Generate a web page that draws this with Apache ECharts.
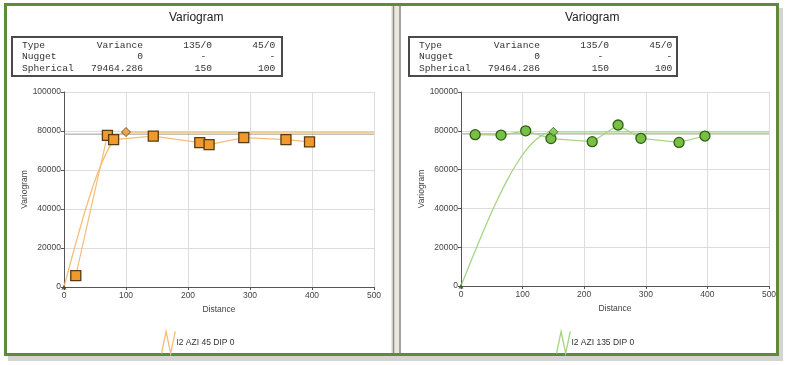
<!DOCTYPE html>
<html>
<head>
<meta charset="utf-8">
<script src="https://cdn.jsdelivr.net/npm/echarts@6/dist/echarts.min.js"></script>
<style>html,body{margin:0;padding:0;background:#fff}#c{width:790px;height:365px}</style>
</head>
<body>
<div id="c"></div>
<script>
// ---- data ----
const chartTitle = 'Variogram';
const tableHeader = ['Type', 'Variance', '135/0', '45/0'];
const tableNugget = ['Nugget', '0', '-', '-'];
const tableSpherical = ['Spherical', '79464.286', '150', '100'];

const xTicks = [0, 100, 200, 300, 400, 500];
const yTicks = [0, 20000, 40000, 60000, 80000, 100000];

// left panel: I2 AZI 45 DIP 0
const name45 = 'I2 AZI 45 DIP 0';
const dist45 = [19, 70, 80, 144, 219, 234, 290, 358, 396];
const gamma45 = [5800, 77800, 75600, 77400, 74000, 73000, 76600, 75600, 74400];
const modelDist45 = [0, 10, 20, 30, 40, 50, 60, 70, 80, 90, 100, 500];
const modelGamma45 = [0, 11900, 23500, 34700, 45100, 54600, 62900, 69800, 75000, 78300, 79464, 79464];
const range45 = 100;

// right panel: I2 AZI 135 DIP 0
const name135 = 'I2 AZI 135 DIP 0';
const dist135 = [23, 65, 105, 146, 213, 255, 292, 354, 396];
const gamma135 = [78000, 77800, 80000, 76000, 74400, 83000, 76100, 74000, 77300];
const modelDist135 = [0, 15, 30, 45, 60, 75, 90, 105, 120, 135, 150, 500];
const modelGamma135 = [0, 11900, 23500, 34700, 45100, 54600, 62900, 69800, 75000, 78300, 79464, 79464];
const range135 = 150;

const sill = 79464;
const variance = 78400;

// ---- build ----
const zip = (a, b) => a.map((v, i) => [v, b[i]]);
const chart = echarts.init(document.getElementById('c'), null, {renderer: 'canvas'});

const panels = [
  {left: 64, width: 310, top: 92, height: 195, cx: 196, tableX: 12, tableW: 270,
   name: name45, dist: dist45, gamma: gamma45, md: modelDist45, mg: modelGamma45, range: range45,
   line: '#F5BE78', fill: '#EE9A2E', border: '#5b3a0e', symbol: 'rect', legendX: 159},
  {left: 461, width: 308, top: 92, height: 194, cx: 592, tableX: 409, tableW: 268,
   name: name135, dist: dist135, gamma: gamma135, md: modelDist135, mg: modelGamma135, range: range135,
   line: '#A5D585', fill: '#78C043', border: '#2f5e16', symbol: 'circle', legendX: 554}
];

const zig = 'path://M0,24 L5,0 L10,24 L15,0';

const grid = [], xAxis = [], yAxis = [], series = [], legend = [], graphic = [];

// frame
graphic.push({type: 'rect', shape: {x: 8, y: 356, width: 775, height: 5}, style: {fill: '#d4d4d4'}, z: -2});
graphic.push({type: 'rect', shape: {x: 779, y: 8, width: 4, height: 352}, style: {fill: '#d4d4d4'}, z: -2});
graphic.push({type: 'rect', shape: {x: 5.5, y: 4.5, width: 772, height: 350}, style: {fill: '#fff', stroke: '#5E8B3B', lineWidth: 3}, z: -1});
graphic.push({type: 'rect', shape: {x: 391, y: 6, width: 10, height: 347}, style: {fill: '#ECE9DC'}, z: 0});
graphic.push({type: 'line', shape: {x1: 393.5, y1: 6, x2: 393.5, y2: 353}, style: {stroke: '#8a8a8a', lineWidth: 1.5}, z: 1});
graphic.push({type: 'line', shape: {x1: 400, y1: 6, x2: 400, y2: 353}, style: {stroke: '#8a8a8a', lineWidth: 1.5}, z: 1});

const pad = (s, n) => s.padStart(n, ' ');
const rowText = (r) => r[0].padEnd(9, ' ') + pad(r[1], 12) + pad(r[2], 12) + pad(r[3], 11);
const rowTextNugget = (r) => r[0].padEnd(9, ' ') + pad(r[1], 12) + pad(r[2], 11) + pad(r[3], 12);

panels.forEach((p, i) => {
  grid.push({left: p.left, top: p.top, width: p.width, height: p.height, containLabel: false});
  xAxis.push({
    type: 'value', gridIndex: i, min: xTicks[0], max: xTicks[xTicks.length - 1], interval: 100,
    name: 'Distance', nameLocation: 'middle', nameGap: 8,
    nameTextStyle: {fontSize: 8.5, color: '#444', fontFamily: 'Liberation Sans'},
    axisLine: {show: true, onZero: false, lineStyle: {color: '#555', width: 1}},
    axisTick: {show: true, length: 3, lineStyle: {color: '#555'}},
    axisLabel: {fontSize: 8.5, color: '#444', margin: 4, fontFamily: 'Liberation Sans'},
    splitLine: {show: true, lineStyle: {color: '#dcdcdc', width: 1}}
  });
  yAxis.push({
    type: 'value', gridIndex: i, min: yTicks[0], max: yTicks[yTicks.length - 1], interval: 20000,
    name: 'Variogram', nameLocation: 'middle', nameGap: 32,
    nameTextStyle: {fontSize: 8.5, color: '#444', fontFamily: 'Liberation Sans'},
    axisLine: {show: true, lineStyle: {color: '#555', width: 1}},
    axisTick: {show: true, length: 3, lineStyle: {color: '#555'}},
    axisLabel: {fontSize: 8.5, color: '#444', margin: 3, fontFamily: 'Liberation Sans',
      formatter: (v) => String(v)},
    splitLine: {show: true, lineStyle: {color: '#dcdcdc', width: 1}}
  });
  // variance line
  series.push({
    name: 'variance' + i, type: 'line', xAxisIndex: i, yAxisIndex: i,
    data: [[xTicks[0], variance], [xTicks[xTicks.length - 1], variance]],
    symbol: 'none', lineStyle: {color: '#9a9a9a', width: 1}, silent: true, z: 1
  });
  // model curve
  series.push({
    name: 'model' + i, type: 'line', xAxisIndex: i, yAxisIndex: i,
    data: zip(p.md, p.mg), smooth: 0.3,
    symbol: 'none', lineStyle: {color: p.line, width: 1.3}, silent: true, z: 2
  });
  // experimental
  series.push({
    name: p.name, type: 'line', xAxisIndex: i, yAxisIndex: i,
    data: zip(p.dist, p.gamma),
    symbol: p.symbol, symbolSize: 10,
    itemStyle: {color: p.fill, borderColor: p.border, borderWidth: 1.3},
    lineStyle: {color: p.line, width: 1.2}, z: 3
  });
  // range marker (diamond on sill)
  series.push({
    name: 'range' + i, type: 'scatter', xAxisIndex: i, yAxisIndex: i,
    data: [[p.range, sill]], symbol: 'diamond', symbolSize: 9,
    itemStyle: {color: p.fill, borderColor: p.border, borderWidth: 1}, z: 4
  });
  // origin marker
  series.push({
    name: 'origin' + i, type: 'scatter', xAxisIndex: i, yAxisIndex: i,
    data: [[0, 0]], symbol: 'triangle', symbolSize: 5,
    itemStyle: {color: p.border}, z: 4
  });
  legend.push({
    data: [{name: p.name, icon: zig,
      itemStyle: {color: 'none', borderColor: p.line, borderWidth: 1.3},
      lineStyle: {opacity: 0, width: 0}}],
    left: p.legendX, top: 329, padding: 0, itemWidth: 14, itemHeight: 22, itemGap: 2,
    textStyle: {fontSize: 8.5, color: '#333', fontFamily: 'Liberation Sans', padding: [0, 0, 5, -4]},
    selectedMode: false
  });
  // title
  graphic.push({type: 'text', left: p.cx - 27, top: 12,
    style: {text: chartTitle, font: '12px "Liberation Sans", Arial', fill: '#222'}, z: 5});
  // table
  graphic.push({type: 'rect', shape: {x: p.tableX, y: 37, width: p.tableW, height: 39},
    style: {fill: '#fff', stroke: '#4a4a4a', lineWidth: 2}, z: 5});
  const rows = [rowText(tableHeader), rowTextNugget(tableNugget), rowText(tableSpherical)];
  rows.forEach((t, k) => {
    graphic.push({type: 'text', x: p.tableX + 10, y: 45 + k * 11.6,
      style: {text: t, font: '9.6px "Liberation Mono", monospace', fill: '#333', textVerticalAlign: 'middle'}, z: 6});
  });
});

chart.setOption({
  animation: false,
  backgroundColor: '#ffffff',
  grid, xAxis, yAxis, series, legend, graphic
});
</script>
</body>
</html>
